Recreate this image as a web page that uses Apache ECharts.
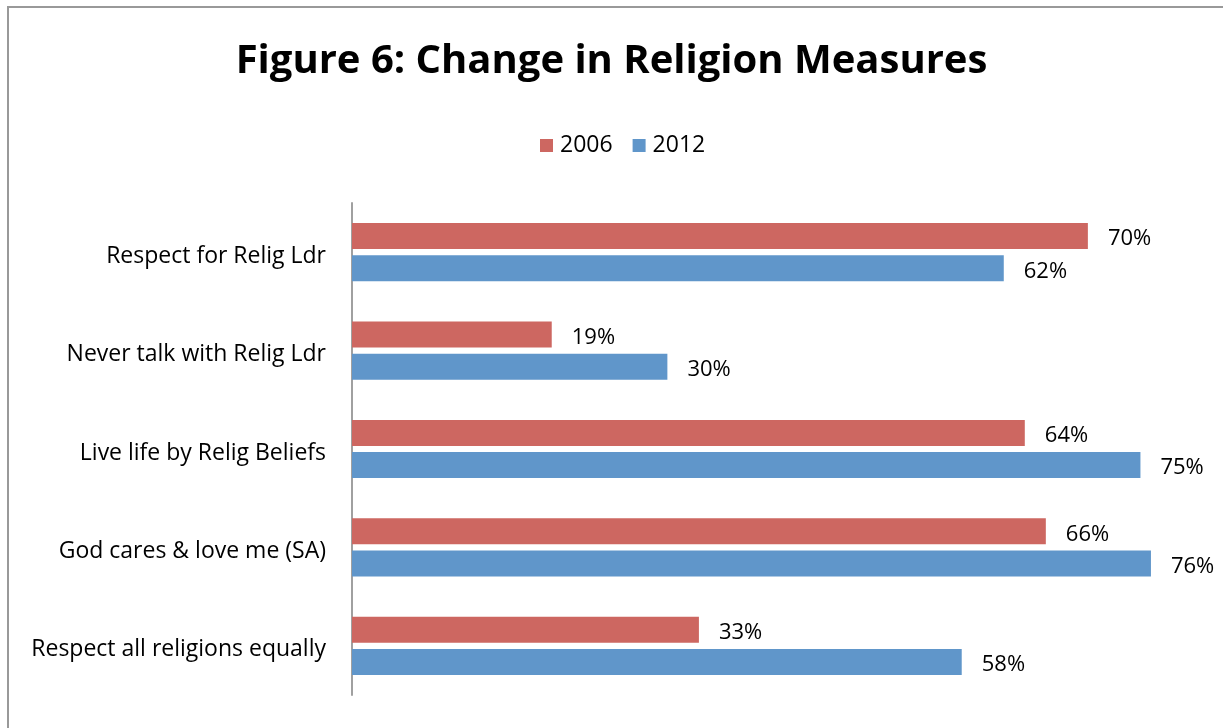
<!DOCTYPE html>
<html><head><meta charset="utf-8">
<script src="https://cdn.jsdelivr.net/npm/echarts@6/dist/echarts.min.js"></script>
<style>html,body{margin:0;padding:0;background:#fff}#c{width:1223px;height:728px}</style>
</head><body><div id="c"></div>
<script>
const categories = ["Respect for Relig Ldr","Never talk with Relig Ldr","Live life by Relig Beliefs","God cares & love me (SA)","Respect all religions equally"];
const values2006 = [70,19,64,66,33];
const values2012 = [62,30,75,76,58];
const seriesNames = ["2006","2012"];
const FONT = "Open Sans";
const chart = echarts.init(document.getElementById('c'), null, {renderer:'canvas'});
chart.setOption({
  backgroundColor:'#fff',
  animation:false,
  graphic:[{type:'rect',shape:{x:8,y:7,width:1230,height:740},style:{fill:'none',stroke:'#999',lineWidth:2},silent:true}],
  title:{text:'Figure 6: Change in Religion Measures',left:'center',top:37,textStyle:{fontFamily:FONT,fontWeight:'bold',fontSize:40,color:'#000'}},
  legend:{data:seriesNames,top:129,left:535,itemWidth:13,itemHeight:13,itemGap:20,icon:'rect',textStyle:{fontFamily:FONT,fontSize:23,color:'#000',padding:[0,0,0,2]}},
  grid:{left:352,right:30,top:203,bottom:33,containLabel:false},
  xAxis:{type:'value',min:0,max:80,show:false},
  yAxis:{type:'category',data:categories,inverse:true,
    axisLine:{show:true,lineStyle:{color:'#a0a0a0',width:2}},
    axisTick:{show:false},
    axisLabel:{color:'#000',margin:26,formatter:'{a|{value}}',
      rich:{a:{fontFamily:FONT,fontSize:23,color:'#000',padding:[8,0,0,0]}}}},
  series:[
    {name:seriesNames[0],type:'bar',data:values2006,barWidth:26,barGap:'24%',itemStyle:{color:'#CD6761'},
     label:{show:true,position:'right',distance:20,offset:[0,3],formatter:'{c}%',fontFamily:FONT,fontSize:22,color:'#000'}},
    {name:seriesNames[1],type:'bar',data:values2012,barWidth:26,itemStyle:{color:'#6096CA'},
     label:{show:true,position:'right',distance:20,offset:[0,3],formatter:'{c}%',fontFamily:FONT,fontSize:22,color:'#000'}}
  ]
});
</script></body></html>
